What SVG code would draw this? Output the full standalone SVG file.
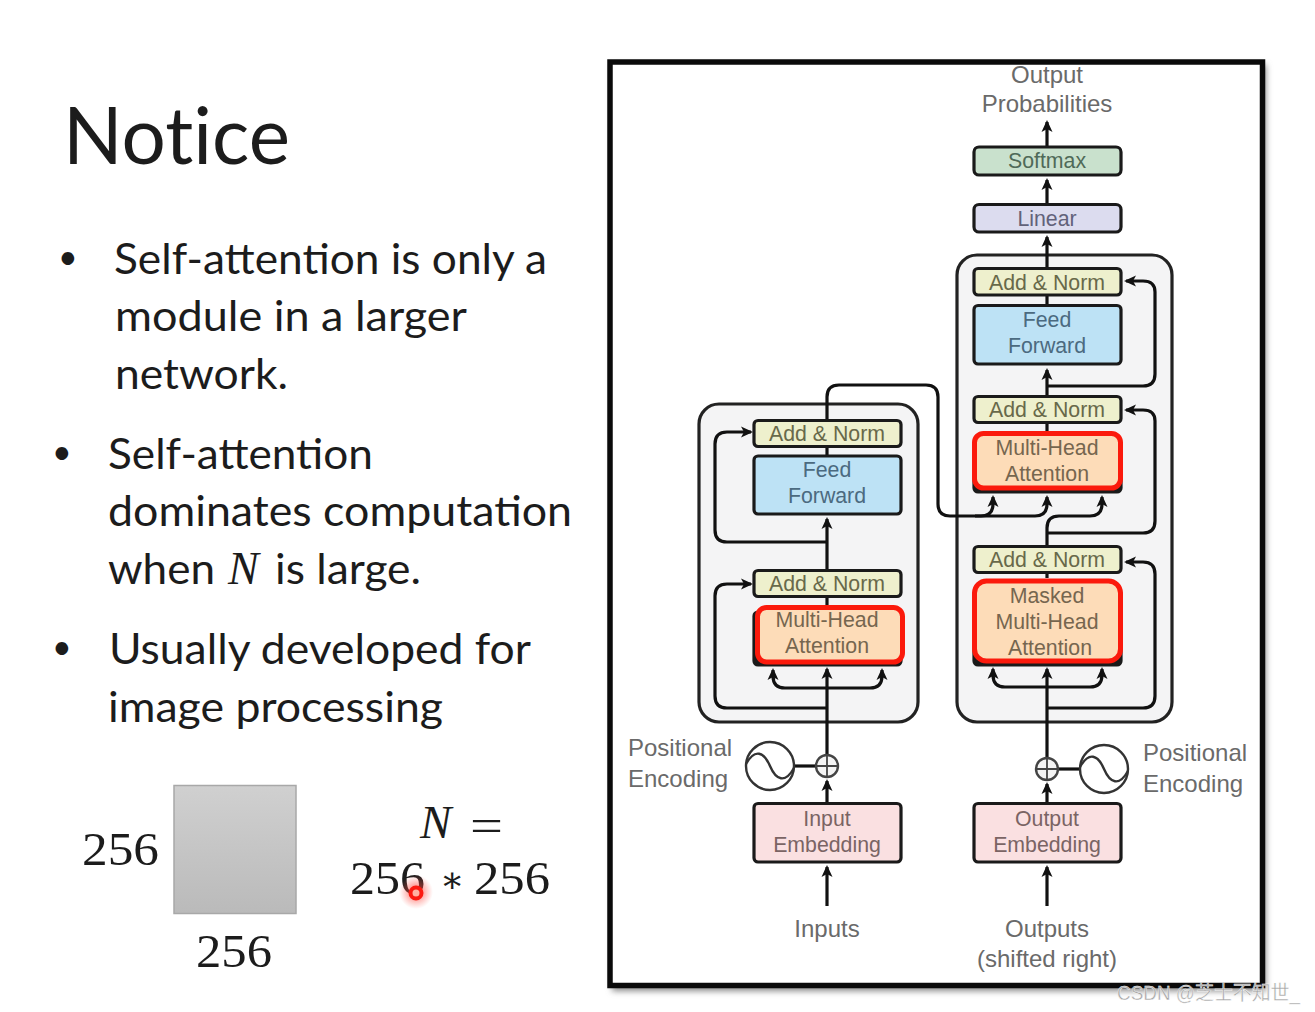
<svg xmlns="http://www.w3.org/2000/svg" width="1315" height="1012" viewBox="0 0 1315 1012">
<style>
.body{font-family:"Lato","Carlito","Noto Sans",sans-serif;font-size:42px;fill:#1c1c1c}
.bul{font-family:"Lato","Carlito","Noto Sans",sans-serif;font-size:34px;fill:#1c1c1c}
.num{font-family:"Liberation Serif","DejaVu Serif",serif;font-size:47px;fill:#1c1c1c}
.it{font-family:"Liberation Serif","DejaVu Serif",serif;font-style:italic}
.lbl{font-family:"Liberation Sans",Arial,sans-serif;font-size:24px;fill:#6a6a6a;text-anchor:middle}
.lbs{font-family:"Liberation Sans",Arial,sans-serif;font-size:24px;fill:#6a6a6a}
.t{font-family:"Liberation Sans",Arial,sans-serif;font-size:21.3px;text-anchor:middle}
.box{stroke:#1a1a1a;stroke-width:3.2}
.an{fill:#eef0cd}.ant{fill:#68694a}
.ff{fill:#bde2f5}.fft{fill:#4b6a80}
.mh{fill:#fddcb8}.mht{fill:#76664f}
.em{fill:#fae0e1}.emt{fill:#7a6464}
.stack{fill:#f4f4f5;stroke:#222;stroke-width:3.2}
.red{fill:#fddcb8;stroke:#fb1a0c;stroke-width:5}
.con{fill:none;stroke:#111;stroke-width:3.2}
.arr{marker-end:url(#ah)}
.wave{fill:none;stroke:#333;stroke-width:2.4}
.plus{fill:#f4f4f4;stroke:#444;stroke-width:2.4}
</style>
<defs>
<marker id="ah" viewBox="-11 -7 14 14" refX="0" refY="0" markerUnits="userSpaceOnUse" markerWidth="14" markerHeight="14" orient="auto">
<path d="M2,0 L-10,-5.5 L-7,0 L-10,5.5 Z" fill="#111"/>
</marker>
<filter id="sh" x="-5%" y="-5%" width="110%" height="110%"><feGaussianBlur stdDeviation="3"/></filter>
<linearGradient id="sq" x1="0" y1="0" x2="0" y2="1"><stop offset="0" stop-color="#d0d0d0"/><stop offset="1" stop-color="#bababa"/></linearGradient>
<radialGradient id="glow"><stop offset="0" stop-color="#ff2a20" stop-opacity=".8"/><stop offset=".5" stop-color="#ff4a40" stop-opacity=".4"/><stop offset="1" stop-color="#ff6a60" stop-opacity="0"/></radialGradient>
</defs>
<rect width="1315" height="1012" fill="#fff"/>

<g id="slide-text">
<text x="63" y="164" font-family="Lato,Carlito,sans-serif" font-size="79" fill="#1c1c1c" textLength="227" lengthAdjust="spacingAndGlyphs" style="font-variant-ligatures:none">Notice</text>
<text class="bul" x="58" y="268.500">•</text>
<text class="body" x="114" y="274" textLength="433" lengthAdjust="spacingAndGlyphs">Self-attention is only a</text>
<text class="body" x="115" y="331" textLength="352" lengthAdjust="spacingAndGlyphs">module in a larger</text>
<text class="body" x="115" y="389" textLength="173" lengthAdjust="spacingAndGlyphs">network.</text>
<text class="bul" x="52" y="463.500">•</text>
<text class="body" x="108" y="469" textLength="265" lengthAdjust="spacingAndGlyphs">Self-attention</text>
<text class="body" x="108" y="526" textLength="464" lengthAdjust="spacingAndGlyphs">dominates computation</text>
<text class="body" x="108" y="584" textLength="107" lengthAdjust="spacingAndGlyphs">when</text>
<text class="it" x="228" y="584" font-size="46" fill="#1c1c1c">N</text>
<text class="body" x="275" y="584" textLength="146" lengthAdjust="spacingAndGlyphs">is large.</text>
<text class="bul" x="52" y="658.500">•</text>
<text class="body" x="109" y="664" textLength="422" lengthAdjust="spacingAndGlyphs">Usually developed for</text>
<text class="body" x="108" y="722" textLength="335" lengthAdjust="spacingAndGlyphs">image processing</text>
</g>

<g id="image-square">
<rect x="174" y="785.500" width="122" height="128" fill="url(#sq)" stroke="#a8a8a8" stroke-width="1.500"/>
<text class="num" x="82" y="865" textLength="77" lengthAdjust="spacingAndGlyphs">256</text>
<text class="num" x="196" y="967" textLength="76" lengthAdjust="spacingAndGlyphs">256</text>
</g>

<g id="formula">
<text class="it" x="420" y="838" font-size="47" fill="#1c1c1c">N</text>
<text class="num" x="470" y="841" textLength="33" lengthAdjust="spacingAndGlyphs">=</text>
<text class="num" x="350" y="894" textLength="75" lengthAdjust="spacingAndGlyphs">256</text>
<text class="num" x="440" y="891.500" style="font-size:36px">∗</text>
<text class="num" x="474" y="894" textLength="76" lengthAdjust="spacingAndGlyphs">256</text>
</g>

<g id="pointer">
<circle cx="416" cy="892" r="17" fill="url(#glow)"/>
<circle cx="416" cy="893" r="5.500" fill="#ffb0a0" stroke="#fb1a10" stroke-width="4"/>
</g>

<g id="frame">
<rect x="612" y="65" width="654" height="926" fill="#888" filter="url(#sh)"/>
<rect x="610" y="62" width="652.500" height="923.500" fill="#fff" stroke="#0a0a0a" stroke-width="5.500"/>
</g>

<g id="encoder-stack"><rect class="stack" x="699" y="404" width="219" height="318" rx="20"/></g>
<g id="decoder-stack"><rect class="stack" x="957" y="255" width="215" height="467" rx="20"/></g>

<g id="connectors">
<path class="con arr" d="M1047 146V122"/>
<path class="con arr" d="M1047 203V180"/>
<path class="con arr" d="M1047 267V237"/>
<path class="con" d="M1047 296V304"/>
<path class="con arr" d="M1047 395V370"/>
<path class="con" d="M1047 423V431"/>
<path class="con" d="M1047 573V578"/>
<path class="con arr" d="M1047 386H1143Q1155 386 1155 374V292Q1155 281 1143 281H1126"/>
<path class="con arr" d="M1047 533H1143Q1155 533 1155 521V421Q1155 410 1143 410H1126"/>
<path class="con arr" d="M1047 708H1143Q1155 708 1155 696V574Q1155 562 1143 562H1126"/>
<path class="con arr" d="M827 419V397Q827 385 839 385H926Q938 385 938 397V504Q938 516 950 516H1035Q1047 516 1047 504V497"/>
<path class="con arr" d="M975 516H981Q993 516 993 504V497"/>
<path class="con arr" d="M1047 545V528Q1047 516 1059 516H1090Q1102 516 1102 504V497"/>
<path class="con arr" d="M1047 758V669"/>
<path class="con arr" d="M1047 687H1005Q993 687 993 675V669"/>
<path class="con arr" d="M1047 687H1090Q1102 687 1102 675V669"/>
<path class="con arr" d="M1047 802V784"/>
<path class="con arr" d="M1047 906V867"/>
<path class="con" d="M1058 769H1081"/>
<path class="con" d="M827 448V455"/>
<path class="con" d="M827 598V605"/>
<path class="con arr" d="M827 569V519"/>
<path class="con arr" d="M827 542H727Q715 542 715 530V444Q715 432 727 432H751"/>
<path class="con arr" d="M827 708H727Q715 708 715 696V596Q715 584 727 584H751"/>
<path class="con arr" d="M827 755V669"/>
<path class="con arr" d="M827 688H785Q773 688 773 676V670"/>
<path class="con arr" d="M827 688H870Q882 688 882 676V670"/>
<path class="con arr" d="M827 802V781"/>
<path class="con arr" d="M827 906V867"/>
<path class="con" d="M794 766H816"/>
</g>

<g id="output-probabilities"><text class="lbl" x="1047" y="83">Output</text><text class="lbl" x="1047" y="112">Probabilities</text></g>
<g id="softmax"><rect class="box" x="974" y="147" width="147" height="28" rx="5" fill="#c9e1cd"/><text class="t" x="1047" y="168" fill="#4f6a58">Softmax</text></g>
<g id="linear"><rect class="box" x="974" y="204.500" width="147" height="27.500" rx="5" fill="#dcdcef"/><text class="t" x="1047" y="226" fill="#62627a">Linear</text></g>

<g id="dec-addnorm-3"><rect class="box an" x="974" y="268.500" width="147" height="26.500" rx="4"/><text class="t ant" x="1047" y="290">Add &amp; Norm</text></g>
<g id="dec-feedforward"><rect class="box ff" x="974" y="305.500" width="147" height="58.500" rx="4"/><text class="t fft" x="1047" y="327">Feed</text><text class="t fft" x="1047" y="353">Forward</text></g>
<g id="dec-addnorm-2"><rect class="box an" x="974" y="396.500" width="147" height="26" rx="4"/><text class="t ant" x="1047" y="417">Add &amp; Norm</text></g>
<g id="dec-attention"><rect class="box" x="974" y="440" width="147" height="52" rx="4" fill="#1a1a1a"/><rect class="red" x="974.500" y="433.500" width="146" height="54.500" rx="9"/><text class="t mht" x="1047" y="455">Multi-Head</text><text class="t mht" x="1047" y="481">Attention</text></g>
<g id="dec-addnorm-1"><rect class="box an" x="974" y="546.500" width="147" height="26" rx="4"/><text class="t ant" x="1047" y="567">Add &amp; Norm</text></g>
<g id="dec-masked-attention"><rect class="box" x="974" y="590" width="147" height="75" rx="4" fill="#1a1a1a"/><rect class="red" x="974.500" y="581" width="146" height="80" rx="12"/><text class="t mht" x="1047" y="603">Masked</text><text class="t mht" x="1047" y="629">Multi-Head</text><text class="t mht" x="1050" y="655">Attention</text></g>
<g id="dec-pos-sum"><circle class="plus" cx="1047" cy="769" r="11"/><path d="M1036 769H1058M1047 758V780" stroke="#444" stroke-width="1.800"/></g>
<g id="dec-pos-wave"><circle class="wave" cx="1104" cy="769" r="24"/><path class="wave" d="M1080 767C1089 751 1098 755 1104 769C1110 783 1119 787 1128 771"/></g>
<g id="dec-pos-label"><text class="lbs" x="1143" y="761">Positional</text><text class="lbs" x="1143" y="792">Encoding</text></g>
<g id="output-embedding"><rect class="box em" x="974" y="803.500" width="147" height="58.500" rx="4"/><text class="t emt" x="1047" y="826">Output</text><text class="t emt" x="1047" y="852">Embedding</text></g>
<g id="outputs"><text class="lbl" x="1047" y="937">Outputs</text><text class="lbl" x="1047" y="967">(shifted right)</text></g>

<g id="enc-addnorm-2"><rect class="box an" x="754" y="420.500" width="147" height="26" rx="4"/><text class="t ant" x="827" y="441">Add &amp; Norm</text></g>
<g id="enc-feedforward"><rect class="box ff" x="754" y="456" width="147" height="58" rx="4"/><text class="t fft" x="827" y="477">Feed</text><text class="t fft" x="827" y="503">Forward</text></g>
<g id="enc-addnorm-1"><rect class="box an" x="754" y="570.500" width="147" height="26" rx="4"/><text class="t ant" x="827" y="591">Add &amp; Norm</text></g>
<g id="enc-attention"><rect class="box" x="754" y="612" width="147" height="53" rx="4" fill="#1a1a1a"/><rect class="red" x="757.500" y="607.500" width="145" height="54.500" rx="9"/><text class="t mht" x="827" y="627">Multi-Head</text><text class="t mht" x="827" y="653">Attention</text></g>
<g id="enc-pos-sum"><circle class="plus" cx="827" cy="766" r="11"/><path d="M816 766H838M827 755V777" stroke="#444" stroke-width="1.800"/></g>
<g id="enc-pos-wave"><circle class="wave" cx="770" cy="766" r="24"/><path class="wave" d="M746 764C755 748 764 752 770 766C776 780 785 784 794 768"/></g>
<g id="enc-pos-label"><text class="lbs" x="628" y="756">Positional</text><text class="lbs" x="628" y="787">Encoding</text></g>
<g id="input-embedding"><rect class="box em" x="754" y="803.500" width="147" height="58.500" rx="4"/><text class="t emt" x="827" y="826">Input</text><text class="t emt" x="827" y="852">Embedding</text></g>
<g id="inputs"><text class="lbl" x="827" y="937">Inputs</text></g>

<g id="watermark"><text x="1117" y="1000" font-family="'Liberation Sans','Noto Sans CJK SC',sans-serif" font-size="20" fill="#a4a4a4" stroke="#fff" stroke-width=".4" textLength="183" lengthAdjust="spacingAndGlyphs">CSDN @芝士不知世_</text></g>
</svg>
